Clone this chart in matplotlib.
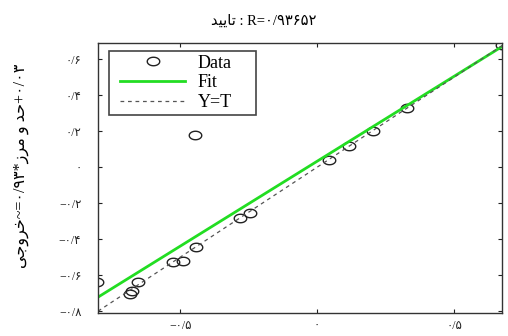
import numpy as np
import matplotlib
matplotlib.use("Agg")
import matplotlib.pyplot as plt
from matplotlib.path import Path
from matplotlib.patches import Rectangle

# --- Data ---
target = [-0.803, -0.682, -0.675, -0.653, -0.526, -0.489, -0.442, -0.445,
          -0.281, -0.245, 0.044, 0.117, 0.204, 0.328, 0.675]
output = [-0.636, -0.706, -0.689, -0.639, -0.528, -0.522, -0.444, 0.178,
          -0.283, -0.256, 0.039, 0.117, 0.200, 0.328, 0.678]

fit_x = [-0.80, 0.675]
fit_y = [-0.722, 0.670]
yt_line = [-0.80, 0.68]

x_ticks = [-0.5, 0, 0.5]
x_tick_labels = ["\u2212\u06f0/\u06f5", "\u06f0", "\u06f0/\u06f5"]
y_ticks = [-0.8, -0.6, -0.4, -0.2, 0, 0.2, 0.4, 0.6]
y_tick_labels = ["\u2212\u06f0/\u06f8", "\u2212\u06f0/\u06f6", "\u2212\u06f0/\u06f4",
                 "\u2212\u06f0/\u06f2", "\u06f0", "\u06f0/\u06f2", "\u06f0/\u06f4", "\u06f0/\u06f6"]

# Persian text written in visual (shaped, left-to-right) order
title_text = "\ufeaa\ufbff\ufbfe\ufe8e\ufe97 : R=\u06f0/\u06f9\u06f3\u06f6\u06f5\u06f2"
ylabel_text = ("\ufbfd\ufe9f\ufeed\ufeae\ufea7~=\u06f0/\u06f9\u06f3*"
               "\ufeaf\ufeae\ufee3 \ufeed \ufeaa\ufea3+\u06f0/\u06f0\u06f3")

mixed = ["Liberation Serif", "DejaVu Sans"]

# slightly wide ellipse marker like the stretched original
t = np.linspace(0, 2 * np.pi, 40)
ellipse = Path(np.column_stack([np.cos(t), 0.68 * np.sin(t)]), closed=True)

fig = plt.figure(figsize=(5.08, 3.36), dpi=100)
ax = fig.add_axes([98 / 508, 23 / 336, 404 / 508, 270 / 336])

ax.plot(target, output, linestyle="none", marker=ellipse, markersize=9,
        markerfacecolor="none", markeredgecolor="#222222", markeredgewidth=1.0,
        label="Data")
ax.plot(fit_x, fit_y, color="#22dd22", linewidth=2.0, label="Fit")
ax.plot(yt_line, yt_line, color="#555555", linestyle="--", linewidth=0.9,
        dashes=(3, 3), label="Y=T")

ax.set_xlim(-0.80, 0.675)
ax.set_ylim(-0.81, 0.69)
ax.set_xticks(x_ticks)
ax.set_xticklabels(x_tick_labels, fontsize=8.5, family=mixed)
ax.set_yticks(y_ticks)
ax.set_yticklabels(y_tick_labels, fontsize=8.5, family=mixed)
ax.tick_params(direction="in", length=3, width=0.8, top=True, right=True,
               colors="#222222")
ax.tick_params(axis="x", pad=5)
ax.tick_params(axis="y", pad=12)
for s in ax.spines.values():
    s.set_linewidth(1.0)
    s.set_color("#333333")

ax.set_title(title_text, fontsize=10.5, family=mixed, pad=13, x=0.41)
fig.text(21 / 508, 1 - 166 / 336, ylabel_text, rotation=90, fontsize=11.5,
         family=mixed, ha="center", va="center")

# legend box drawn separately so it can be wider than the entries
ax.add_patch(Rectangle((0.027, 0.733), 0.364, 0.237, transform=ax.transAxes,
                       facecolor="white", edgecolor="#444444", linewidth=1.2,
                       zorder=4.9))
leg = ax.legend(loc="upper left", bbox_to_anchor=(0.055, 0.957), borderaxespad=0,
                frameon=False, prop={"family": "Liberation Serif", "size": 13},
                handlelength=3.6, handletextpad=0.7, labelspacing=0.16,
                borderpad=0)

fig.savefig("out.png", dpi=100)
